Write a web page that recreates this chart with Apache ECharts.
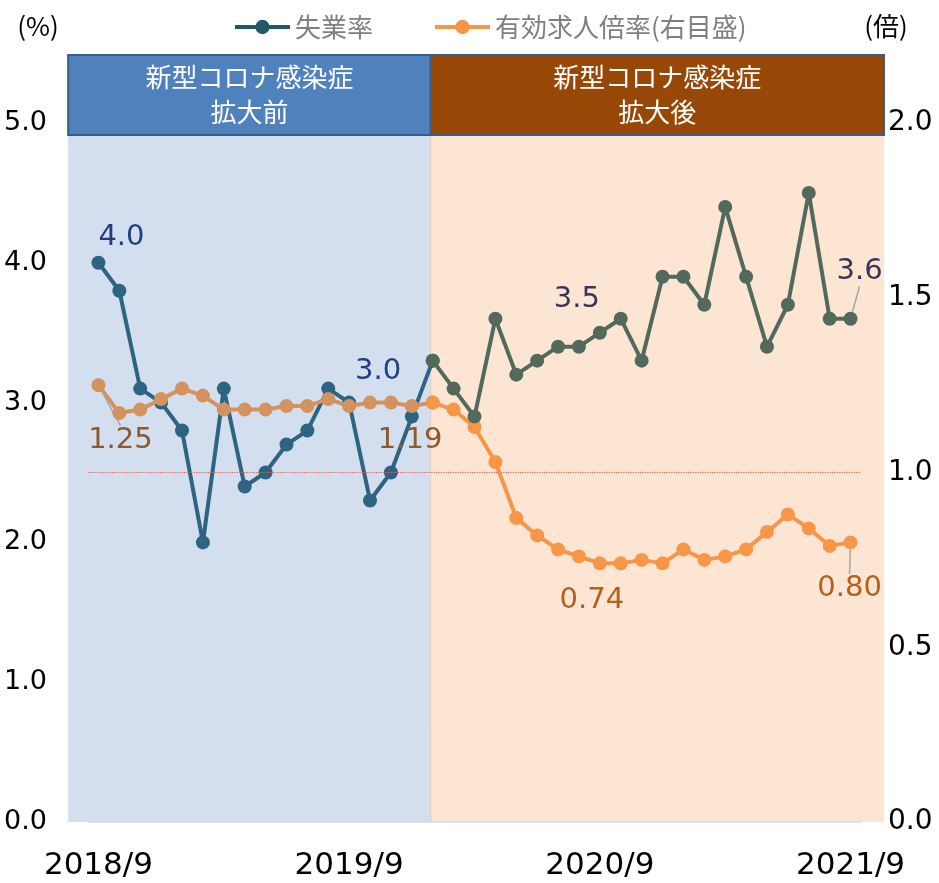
<!DOCTYPE html>
<html>
<head>
<meta charset="utf-8">
<script src="https://cdn.jsdelivr.net/npm/echarts@6/dist/echarts.min.js"></script>
<style>
  html, body { margin: 0; padding: 0; background: #fff; }
  #main { width: 939px; height: 883px; }
</style>
</head>
<body>
<div id="main"></div>
<script>
// 月（2018/9〜2021/9）
const months = [
  '2018/9','2018/10','2018/11','2018/12','2019/1','2019/2','2019/3','2019/4','2019/5','2019/6','2019/7','2019/8',
  '2019/9','2019/10','2019/11','2019/12','2020/1','2020/2','2020/3','2020/4','2020/5','2020/6','2020/7','2020/8',
  '2020/9','2020/10','2020/11','2020/12','2021/1','2021/2','2021/3','2021/4','2021/5','2021/6','2021/7','2021/8',
  '2021/9'
];
// 失業率(%)
const unemployment = [
  4.0, 3.8, 3.1, 3.0, 2.8, 2.0, 3.1, 2.4, 2.5, 2.7, 2.8, 3.1,
  3.0, 2.3, 2.5, 2.9, 3.3, 3.1, 2.9, 3.6, 3.2, 3.3, 3.4, 3.4,
  3.5, 3.6, 3.3, 3.9, 3.9, 3.7, 4.4, 3.9, 3.4, 3.7, 4.5, 3.6,
  3.6
];
// 有効求人倍率(倍)
const jobRatio = [
  1.25, 1.17, 1.18, 1.21, 1.24, 1.22, 1.18, 1.18, 1.18, 1.19, 1.19, 1.21,
  1.19, 1.20, 1.20, 1.19, 1.20, 1.18, 1.13, 1.03, 0.87, 0.82, 0.78, 0.76,
  0.74, 0.74, 0.75, 0.74, 0.78, 0.75, 0.76, 0.78, 0.83, 0.88, 0.84, 0.79,
  0.80
];
const leftTicks = [0, 1, 2, 3, 4, 5];
const rightTicks = [0, 0.5, 1.0, 1.5, 2.0];
const splitIndex = 16;               // 2020/1 から拡大後
const labelMonths = ['2018/9', '2019/9', '2020/9', '2021/9'];
const ratioRefLine = 1.0;

const FONT = 'DejaVu Sans';
const JFONT = 'Noto Sans CJK JP';

// ラベルの位置 (点からのずれ)
const uLabel = {
  0:  { dx: 23, dy: -25, color: '#1F3F7F' },
  12: { dx: 29, dy: -31, color: '#1F3F7F' },
  24: { dx: -23, dy: -33, color: '#3A3458' },
  36: { dx: 9, dy: -47, color: '#3A3458', line: true }
};
const rLabel = {
  0:  { dx: 22, dy: 55, color: '#8C5A2E', line: true },
  12: { dx: 61, dy: 34, color: '#8C5A2E' },
  24: { dx: -8, dy: 37, color: '#B5601A' },
  36: { dx: -1, dy: 46, color: '#B5601A', line: true }
};

function makeData(values, from, to, labels, digits) {
  return values.map(function (v, i) {
    if (i < from || i > to) return null;
    const l = labels[i];
    if (!l) return v;
    return {
      value: v,
      label: {
        show: true, position: 'inside', color: l.color,
        fontFamily: FONT, fontSize: 29,
        formatter: function (p) { return p.value.toFixed(digits); }
      },
      labelLine: { show: !!l.line, lineStyle: { color: '#A6A6A6', width: 1.5 } }
    };
  });
}

function layoutFor(labels) {
  return function (params) {
    const l = labels[params.dataIndex];
    if (!l) return {};
    return { dx: l.dx, dy: l.dy };
  };
}

const chart = echarts.init(document.getElementById('main'));

function lineSeries(name, data, color, yIdx, labels, z) {
  return {
    name: name,
    type: 'line',
    yAxisIndex: yIdx,
    data: data,
    symbol: 'circle',
    symbolSize: 14,
    showSymbol: true,
    showAllSymbol: true,
    connectNulls: false,
    z: z,
    lineStyle: { color: color, width: 4 },
    itemStyle: { color: color },
    labelLayout: layoutFor(labels),
    emphasis: { disabled: true },
    animation: false
  };
}

const seriesList = [
  lineSeries('失業率', makeData(unemployment, 0, splitIndex, uLabel, 1), '#2C6482', 0, uLabel, 3),
  lineSeries('有効求人倍率(右目盛)', makeData(jobRatio, 0, splitIndex, rLabel, 2), '#D4925F', 1, rLabel, 4),
  lineSeries('有効求人倍率(右目盛)', makeData(jobRatio, splitIndex, months.length - 1, rLabel, 2), '#F79646', 1, rLabel, 5),
  lineSeries('失業率', makeData(unemployment, splitIndex, months.length - 1, uLabel, 1), '#53695D', 0, uLabel, 6)
];
seriesList[2].markLine = {
  silent: true,
  symbol: 'none',
  label: { show: false },
  lineStyle: { color: '#F25A5A', type: 'dotted', width: 1.2 },
  data: [{ yAxis: ratioRefLine }]
};

chart.setOption({
  backgroundColor: '#ffffff',
  animation: false,
  legend: {
    left: 233,
    top: 14,
    padding: 0,
    itemWidth: 55,
    itemHeight: 18,
    itemGap: 60,
    textStyle: { fontFamily: JFONT, fontSize: 26, color: '#7F7F7F' },
    data: [
      { name: '失業率', itemStyle: { color: '#215968' }, lineStyle: { color: '#215968', width: 4 } },
      { name: '有効求人倍率(右目盛)', itemStyle: { color: '#F79646' }, lineStyle: { color: '#F79646', width: 4 } }
    ]
  },
  grid: { left: 88, right: 78, top: 123, bottom: 61, containLabel: false },
  xAxis: {
    type: 'category',
    data: months,
    boundaryGap: true,
    axisLine: { show: true, lineStyle: { color: '#D9D9D9', width: 1.5 } },
    axisTick: { show: false },
    splitLine: { show: false },
    axisLabel: {
      interval: function (i, v) { return labelMonths.indexOf(v) >= 0; },
      fontFamily: FONT, fontSize: 31, color: '#000', margin: 28
    }
  },
  yAxis: [
    {
      type: 'value', min: leftTicks[0], max: leftTicks[leftTicks.length - 1], interval: 1,
      axisLine: { show: false }, axisTick: { show: false }, splitLine: { show: false },
      axisLabel: { fontFamily: FONT, fontSize: 27, color: '#000', margin: 41,
        formatter: function (v) { return v.toFixed(1); } }
    },
    {
      type: 'value', min: rightTicks[0], max: rightTicks[rightTicks.length - 1], interval: 0.5,
      axisLine: { show: false }, axisTick: { show: false }, splitLine: { show: false },
      axisLabel: { fontFamily: FONT, fontSize: 28, color: '#000', margin: 27,
        formatter: function (v) { return v.toFixed(1); } }
    }
  ],
  series: seriesList
});

// 背景と見出し（軸の座標から計算）
const x0 = chart.convertToPixel({ xAxisIndex: 0 }, months[0]);
const xs = chart.convertToPixel({ xAxisIndex: 0 }, months[splitIndex]);
const xe = chart.convertToPixel({ xAxisIndex: 0 }, months[months.length - 1]);
const step = (xe - x0) / (months.length - 1);
const leftEdge = x0 - 1.45 * step;
const rightEdge = xe + 1.6 * step;
const yBottom = chart.convertToPixel({ yAxisIndex: 0 }, 0);
const headTop = 55, headBottom = 135;

function headText(x, w, text) {
  return {
    type: 'text', z: 1,
    style: {
      x: x + w / 2, y: (headTop + headBottom) / 2,
      text: text, fill: '#fff', font: '26px "' + JFONT + '"',
      align: 'center', verticalAlign: 'middle', lineHeight: 35
    }
  };
}

chart.setOption({
  graphic: [
    { type: 'rect', z: -10, shape: { x: leftEdge, y: headBottom, width: xs - 2 - leftEdge, height: yBottom - headBottom },
      style: { fill: '#D3DEEE' } },
    { type: 'rect', z: -10, shape: { x: xs - 2, y: headBottom, width: rightEdge - xs + 2, height: yBottom - headBottom },
      style: { fill: '#FDE5D3' } },
    { type: 'line', z: -9, shape: { x1: xs - 2, y1: headBottom, x2: xs - 2, y2: yBottom },
      style: { stroke: '#E6CBB8', lineWidth: 1 } },
    { type: 'rect', z: 0, shape: { x: leftEdge, y: headTop, width: xs - 2 - leftEdge, height: headBottom - headTop },
      style: { fill: '#4F81BD', stroke: '#385D8A', lineWidth: 2 } },
    { type: 'rect', z: 0, shape: { x: xs - 2, y: headTop, width: rightEdge - xs + 2, height: headBottom - headTop },
      style: { fill: '#974806', stroke: '#385D8A', lineWidth: 2 } },
    headText(leftEdge, xs - 2 - leftEdge, '新型コロナ感染症\n拡大前'),
    headText(xs - 2, rightEdge - xs + 2, '新型コロナ感染症\n拡大後'),
    { type: 'text', style: { x: 38, y: 26, text: '(%)', fill: '#000', font: '26px "' + JFONT + '"',
      align: 'center', verticalAlign: 'middle' } },
    { type: 'text', style: { x: 886, y: 26, text: '(倍)', fill: '#000', font: '26px "' + JFONT + '"',
      align: 'center', verticalAlign: 'middle' } }
  ]
});

window.addEventListener('resize', function () { chart.resize(); });
</script>
</body>
</html>
